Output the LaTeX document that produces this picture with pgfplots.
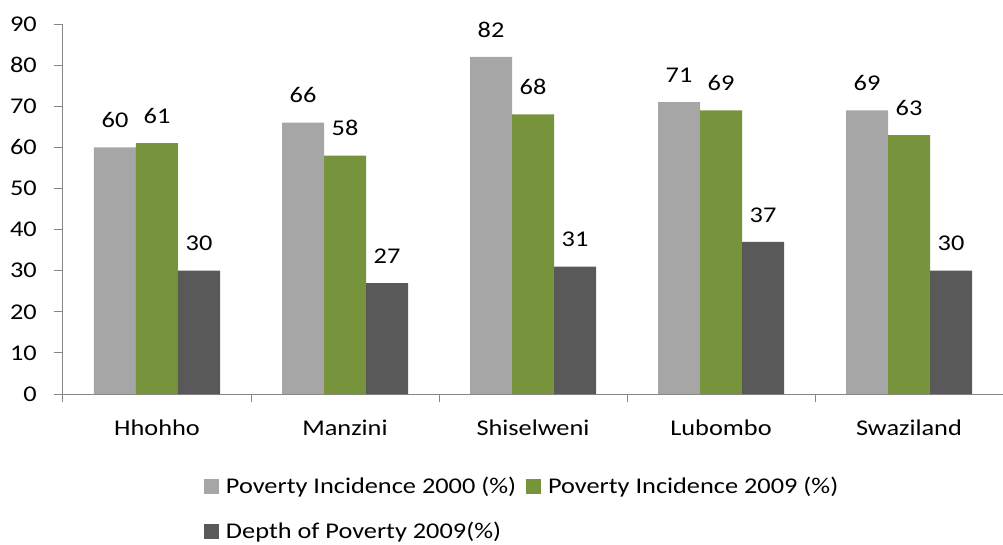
\documentclass[border=0pt]{standalone}
\usepackage{fontspec}
\setmainfont{Carlito}[FakeStretch=1.17]
\usepackage{pgfplots}
\pgfplotsset{compat=1.18}
\definecolor{cA}{HTML}{A6A6A6}
\definecolor{cB}{HTML}{77933C}
\definecolor{cC}{HTML}{595959}
\definecolor{axisgray}{HTML}{868686}
\pgfplotsset{mylegend/.style={legend image code/.code={\fill[##1] (0bp,-7.5bp) rectangle (15bp,7.5bp);}}}
\begin{document}
\fontsize{22.5bp}{27bp}\selectfont
\begin{tikzpicture}[font=\fontsize{22.5bp}{27bp}\selectfont]
\begin{axis}[
  scale only axis, width=940bp, height=370bp,
  ymin=0, ymax=90, ytick={0,10,...,90},
  xmin=-0.5, xmax=4.5,
  xtick={0,1,2,3,4},
  xticklabels={Hhohho,Manzini,Shiselweni,Lubombo,Swaziland},
  minor xtick={-0.5,0.5,1.5,2.5,3.5,4.5},
  major x tick style={draw=none},
  axis x line*=bottom, axis y line*=left,
  axis line style={draw=axisgray, line width=1bp},
  tick style={draw=axisgray, line width=1bp},
  tick align=outside, major tick length=9bp, minor tick length=8bp,
  yticklabel style={xshift=-9.5bp},
  xticklabel style={yshift=-9.5bp},
  /pgf/number format/assume math mode=true,
  ybar=0pt, bar width=42bp,
  nodes near coords,
  every node near coord/.append style={yshift=12bp, text=black},
  every axis plot post/.append style={mylegend},
  legend columns=2,
  legend style={draw=none, fill=none, at={(0.15,-0.224)}, anchor=north west,
    inner sep=0pt, outer sep=0pt,
    nodes={inner sep=0pt, anchor=west},
    row sep=25bp,
    /tikz/every odd column/.append style={column sep=7bp},
    /tikz/every even column/.append style={column sep=10bp}},
]
\addplot[fill=cA, draw=none] coordinates {(0,60) (1,66) (2,82) (3,71) (4,69)};
\addplot[fill=cB, draw=none] coordinates {(0,61) (1,58) (2,68) (3,69) (4,63)};
\addplot[fill=cC, draw=none] coordinates {(0,30) (1,27) (2,31) (3,37) (4,30)};
\legend{Poverty Incidence 2000 (\%), Poverty Incidence 2009 (\%), Depth of Poverty 2009(\%)}
\coordinate (O) at (rel axis cs:0,0);
\end{axis}
\pgfresetboundingbox
\path ([shift={(-63bp,-151bp)}]O) rectangle ([shift={(940bp,394bp)}]O);
\end{tikzpicture}
\end{document}
